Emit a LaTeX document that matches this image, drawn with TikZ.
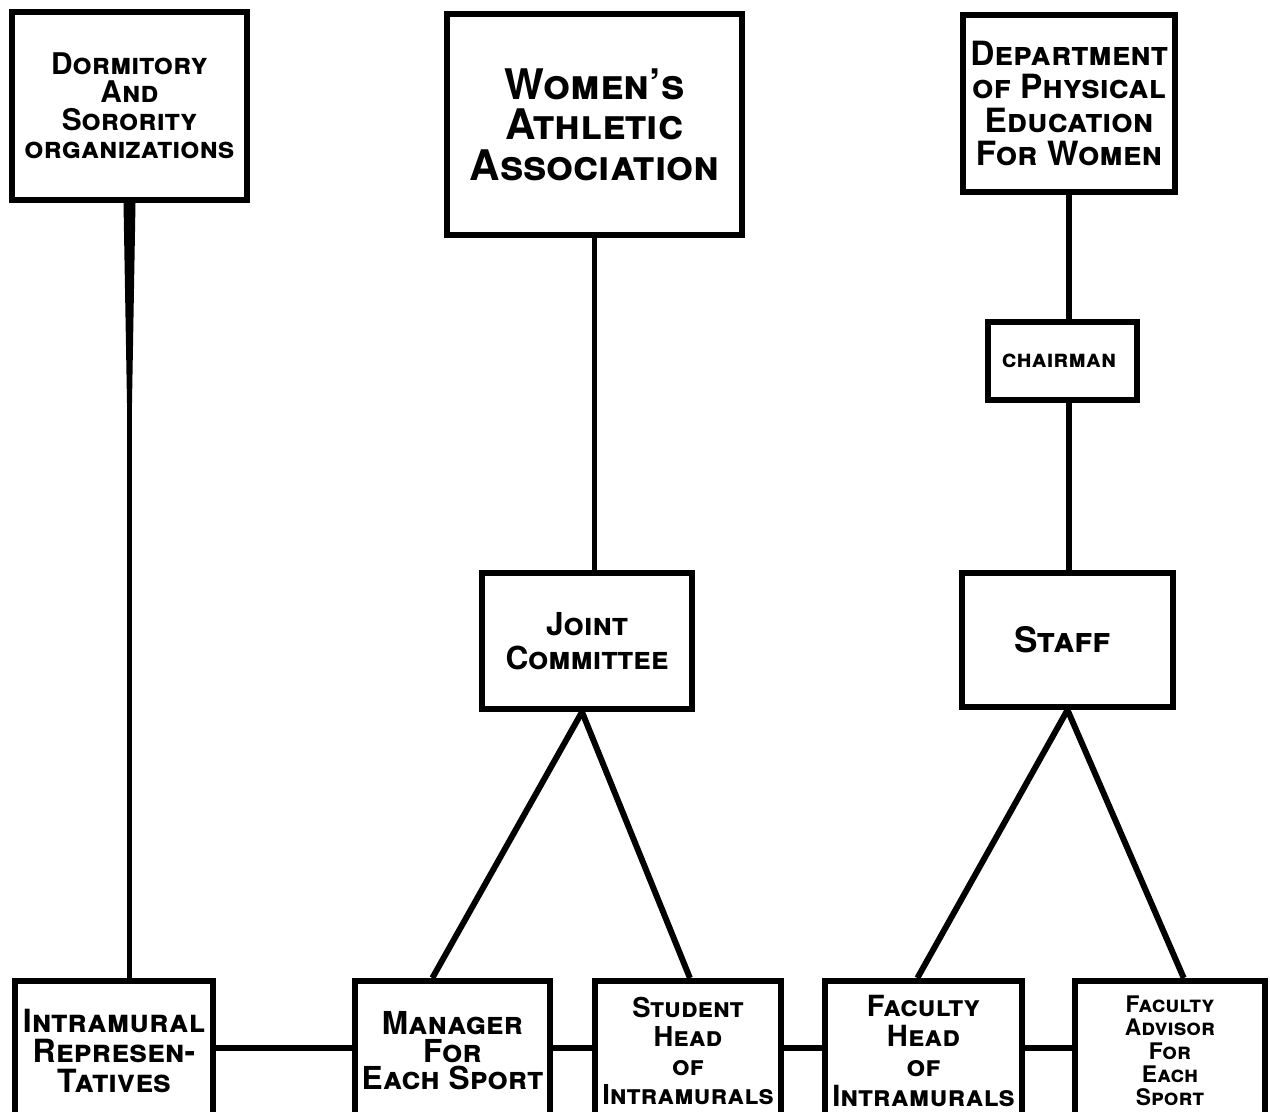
\documentclass[tikz,border=0pt]{standalone}
\usepackage{fontspec}
\setmainfont{TeX Gyre Heros}
\usetikzlibrary{calc}

\begin{document}
\begin{tikzpicture}[
    box/.style={
        rectangle,
        draw=black,
        line width=1.7pt,
        align=center,
        inner sep=2pt
    },
    lower/.style={box, anchor=north, minimum height=1.40cm},
    line/.style={line width=1.7pt}
]
\useasboundingbox (0,0) rectangle (12.7,11.11);

% top row
\node[box, minimum width=2.35cm, minimum height=1.88cm, font={\bfseries\scshape\fontsize{8.5}{8}\selectfont}] (dorm) at (1.295,10.05) {
Dormitory\\And\\Sorority\\organizations
};

\node[box, minimum width=2.95cm, minimum height=2.21cm, font={\bfseries\scshape\fontsize{12}{11.5}\selectfont}] (waa) at (5.945,9.865) {
Women's\\Athletic\\Association
};

\node[box, minimum width=2.08cm, minimum height=1.77cm, font={\bfseries\scshape\fontsize{9.5}{9.5}\selectfont}] (dept) at (10.69,10.075) {
Department\\of Physical\\Education\\For Women
};

\node[box, minimum width=1.49cm, minimum height=0.78cm, font={\bfseries\scshape\fontsize{7}{8}\selectfont}] (chair) at (10.625,7.50) {
chairman
};

% middle row
\node[box, minimum width=2.10cm, minimum height=1.36cm, font={\bfseries\scshape\fontsize{9}{9.5}\selectfont}] (joint) at (5.87,4.70) {
Joint\\Committee
};

\node[box, minimum width=2.11cm, minimum height=1.34cm, font={\bfseries\scshape\fontsize{10}{10}\selectfont}] (staff) at (10.675,4.71) {
Staff
};

% bottom row
\coordinate (link) at (0,0.63);

\node[lower, minimum width=1.98cm, font={\bfseries\scshape\fontsize{9.1}{8.5}\selectfont}] (intra) at (1.14,1.33) {
Intramural\\Represen-\\Tatives
};

\node[lower, minimum width=1.95cm, font={\bfseries\scshape\fontsize{9}{7.8}\selectfont}] (mgr) at (4.525,1.33) {
Manager\\For\\Each Sport
};

\node[lower, minimum width=1.86cm, font={\bfseries\scshape\fontsize{7.8}{8.2}\selectfont}] (stud) at (6.88,1.33) {
Student\\Head\\of\\Intramurals
};

\node[lower, minimum width=1.97cm, font={\bfseries\scshape\fontsize{8.3}{8.5}\selectfont}] (fachead) at (9.235,1.33) {
Faculty\\Head\\of\\Intramurals
};

\node[lower, minimum width=1.90cm, font={\bfseries\scshape\fontsize{6.5}{6.6}\selectfont}] (facadv) at (11.70,1.33) {
Faculty\\Advisor\\For\\Each\\Sport
};

% vertical connections
\fill ($(dorm.south)+(-0.06,0)$) -- ($(dorm.south)+(0.06,0)$) -- ($(dorm.south)+(0.025,-2.0)$) -- ($(dorm.south)+(-0.025,-2.0)$) -- cycle;
\draw[line] (dorm.south) -- (dorm.south |- intra.north);
\draw[line] (waa.south) -- (waa.south |- joint.north);
\draw[line] (dept.south) -- (dept.south |- chair.north);
\draw[line] (chair.south -| dept.south) -- (dept.south |- staff.north);

% branches
\draw[line] ($(joint.south)+(-0.05,0)$) -- ($(mgr.north west)!0.4!(mgr.north east)$);
\draw[line] ($(joint.south)+(-0.05,0)$) -- ($(stud.north west)!0.51!(stud.north east)$);
\draw[line] (staff.south) -- ($(fachead.north west)!0.47!(fachead.north east)$);
\draw[line] (staff.south) -- ($(facadv.north west)!0.57!(facadv.north east)$);

% bottom row links
\draw[line] (intra.east |- link) -- (mgr.west |- link);
\draw[line] (mgr.east |- link) -- (stud.west |- link);
\draw[line] (stud.east |- link) -- (fachead.west |- link);
\draw[line] (fachead.east |- link) -- (facadv.west |- link);

\end{tikzpicture}
\end{document}
